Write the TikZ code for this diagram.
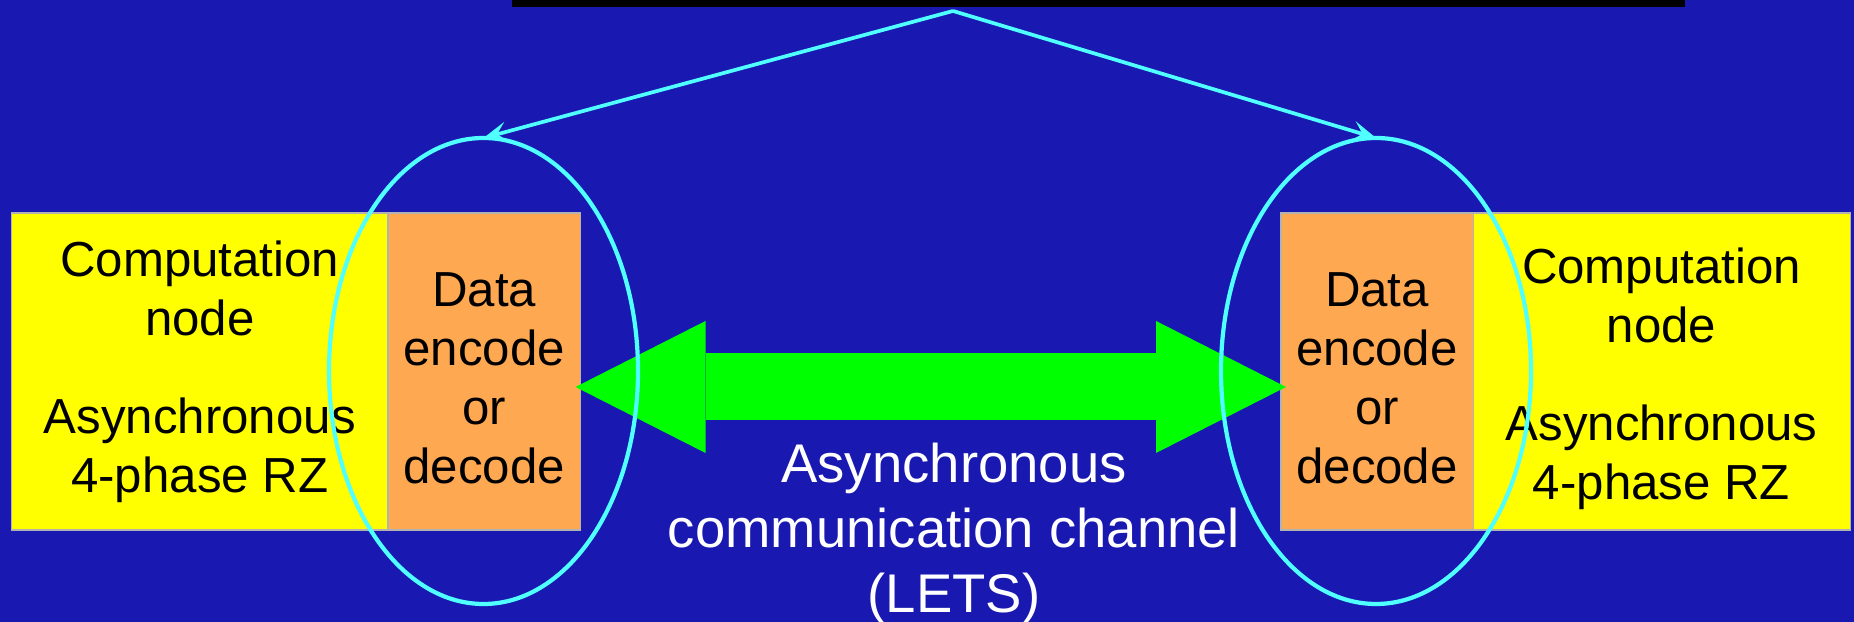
\documentclass[tikz,border=0pt]{standalone}
\usepackage{fontspec}
\setmainfont{Liberation Sans}
\usetikzlibrary{arrows.meta,positioning,shapes.geometric}
\definecolor{slideblue}{RGB}{25,25,178}
\definecolor{nodeyellow}{RGB}{255,255,0}
\definecolor{codecorange}{RGB}{255,168,82}
\definecolor{linkgreen}{RGB}{0,255,0}
\definecolor{ringcyan}{RGB}{80,255,255}

\begin{document}
\begin{tikzpicture}[every node/.style={font=\fontsize{14}{16.8}\selectfont,align=center,inner sep=0pt,outer sep=0pt}]
  \fill[slideblue] (0,0) rectangle (18.54,6.22);
  \useasboundingbox (0,0) rectangle (18.54,6.22);
  \node[fill=black,minimum width=11.73cm,minimum height=0.07cm] (title) at (10.985,6.185) {};
  \coordinate (apex) at (9.53,6.11);
  \node[draw=gray!60,line width=0.3pt,fill=nodeyellow,minimum width=3.765cm,minimum height=3.17cm] (compL) at (1.9975,2.505) {Computation\\node\\[0.39cm]Asynchronous\\4-phase RZ};
  \node[draw=gray!60,line width=0.3pt,fill=codecorange,right=0cm of compL,minimum width=1.925cm,minimum height=3.17cm] (encL) {\rule{0pt}{0.48cm}Data\\encode\\or\\decode};
  \node[draw=gray!60,line width=0.3pt,fill=codecorange,minimum width=1.92cm,minimum height=3.17cm] (encR) at (13.77,2.505) {\rule{0pt}{0.48cm}Data\\encode\\or\\decode};
  \node[draw=gray!60,line width=0.3pt,fill=nodeyellow,right=0cm of encR,minimum width=3.77cm,minimum height=3.17cm] (compR) {\rule{0pt}{0.5cm}Computation\\node\\[0.39cm]Asynchronous\\4-phase RZ};
  \draw[line width=0.67cm,linkgreen,{Triangle[length=1.3cm,width=1.32cm,line width=0pt]}-{Triangle[length=1.3cm,width=1.32cm,line width=0pt]}] ([xshift=-0.05cm,yshift=-0.155cm]encL.east) -- ([xshift=0.05cm,yshift=-0.155cm]encR.west);
  \node[draw=ringcyan,line width=1.2pt,ellipse,minimum width=3.09cm,minimum height=4.66cm] (ringL) at (4.835,2.51) {};
  \node[draw=ringcyan,line width=1.2pt,ellipse,minimum width=3.1cm,minimum height=4.66cm] (ringR) at (13.76,2.51) {};
  \draw[-{Stealth[length=0.24cm,width=0.2cm,inset=0.1cm]},ringcyan,line width=1.05pt] (apex) -- (ringL.north);
  \draw[-{Stealth[length=0.24cm,width=0.2cm,inset=0.1cm]},ringcyan,line width=1.05pt] (apex) -- (ringR.north);
  \node[text=white,font=\fontsize{15.5}{18.5}\selectfont] (chan) at (9.54,0.89) {Asynchronous\\communication channel\\(LETS)};
\end{tikzpicture}
\end{document}
